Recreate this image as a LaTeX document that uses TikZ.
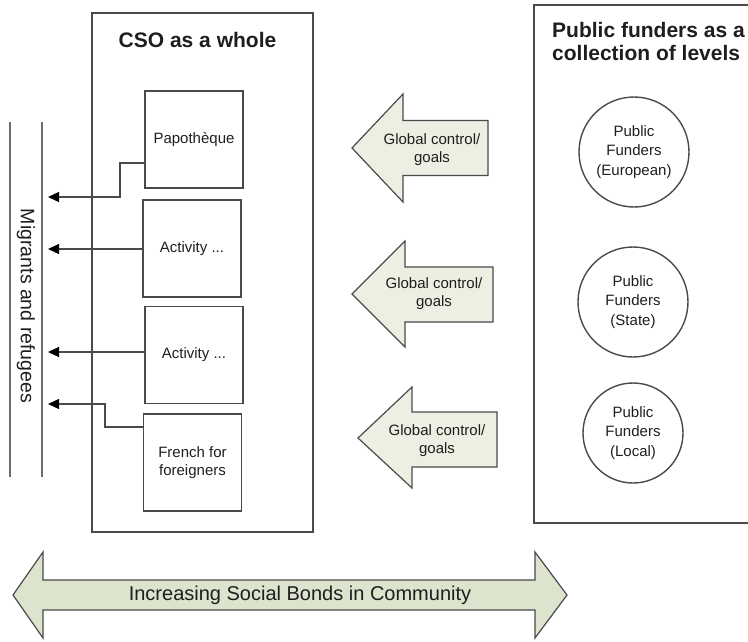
\documentclass[tikz,border=0pt]{standalone}
\usepackage{fontspec}
\setmainfont{Liberation Sans}
\usetikzlibrary{arrows.meta,calc}
\definecolor{edge}{HTML}{4A4A4A}
\definecolor{beige}{HTML}{EEEEE3}
\definecolor{sage}{HTML}{DCE4CE}
\definecolor{ink}{HTML}{1E1E1E}
\begin{document}
\begin{tikzpicture}[x=1pt,y=-1pt,
  frame/.style={draw=edge, line width=1.4pt},
  actbox/.style={draw=edge, line width=1.4pt, minimum width=98pt, minimum height=97pt, inner sep=0pt, align=center, font=\fontsize{15}{18}\selectfont, text=ink},
  fundcircle/.style={circle, draw=edge, line width=1.4pt, inner sep=0pt, align=center, font=\fontsize{15}{19.5}\selectfont, text=ink},
  garrow/.style={draw=edge, line width=1.2pt, fill=beige, line join=miter},
  barrow/.style={draw=edge, line width=1.2pt, fill=sage, line join=miter},
  body/.style={align=center, font=\fontsize{15}{18}\selectfont, text=ink, inner sep=0pt},
  ttl/.style={font=\bfseries\fontsize{21}{23}\selectfont, text=ink, inner sep=0pt},
  conn/.style={draw=edge, line width=1.2pt, -{Triangle[length=11pt,width=10pt,fill=black,color=black]}},
  migline/.style={draw=gray!85!black, line width=1.8pt}
]
\useasboundingbox (0,0) rectangle (748,641);

% migrants lines and label
\draw[migline] (10,122) -- (10,477);
\draw[migline] (42,122) -- (42,477);
\node[rotate=-90, font=\fontsize{19.5}{22}\selectfont, text=ink, inner sep=0pt] (mig) at (26,306) {Migrants and refugees};

% CSO frame
\draw[frame] (92,13) rectangle (313,532);
\node[ttl] (csot) at (197.5,40) {CSO as a whole};

% activity boxes
\node[actbox] (pap) at (194,139.5) {Papoth\`eque};
\node[actbox] (act1) at (192,248.5) {Activity ...};
\node[actbox] (act2) at (194,355) {Activity ...};
\node[actbox] (fr) at (192.5,462.5) {French for\\foreigners};

% connector end points
\coordinate (t1) at (48,197);
\coordinate (t2) at (48,249);
\coordinate (t3) at (48,352);
\coordinate (t4) at (48,404);
\coordinate (k1) at (120,163);
\coordinate (k4) at (105,427);

\draw[conn] (k1 -| pap.west) -- (k1) -- (k1 |- t1) -- (t1);
\draw[conn] (act1.west |- t2) -- (t2);
\draw[conn] (act2.west |- t3) -- (t3);
\draw[conn] (k4 -| fr.west) -- (k4) -- (k4 |- t4) -- (t4);

% public funders frame
\draw[frame] (752,5) -- (534,5) -- (534,523) -- (752,523);
\node[ttl, anchor=west, align=left] (pubt) at (552,41) {Public funders as a\\collection of levels};

\node[fundcircle, minimum size=110pt] (eu) at (634,152) {Public\\Funders\\(European)};
\node[fundcircle, minimum size=110pt] (st) at (633,302) {Public\\Funders\\(State)};
\node[fundcircle, minimum size=100pt] (lo) at (633,433) {Public\\Funders\\(Local)};

% global control arrows
\draw[garrow] (352,148) -- (403,94) -- (403,120.5) -- (488,120.5) -- (488,175.5) -- (403,175.5) -- (403,202) -- cycle;
\node[body] (g1) at (432,150) {Global control/\\goals};
\draw[garrow] (352,294) -- (405,241) -- (405,267) -- (493,267) -- (493,322) -- (405,322) -- (405,347) -- cycle;
\node[body] (g2) at (434,294) {Global control/\\goals};
\draw[garrow] (358,438) -- (412,387) -- (412,412) -- (497,412) -- (497,467) -- (412,467) -- (412,488) -- cycle;
\node[body] (g3) at (437,441) {Global control/\\goals};

% bottom double arrow
\draw[barrow] (13,595) -- (43,552) -- (43,580) -- (535,580) -- (535,552) -- (567,595) -- (535,638) -- (535,610) -- (43,610) -- (43,638) -- cycle;
\node[font=\fontsize{20}{22}\selectfont, text=ink, inner sep=0pt] (bond) at (300,595) {Increasing Social Bonds in Community};
\end{tikzpicture}
\end{document}
